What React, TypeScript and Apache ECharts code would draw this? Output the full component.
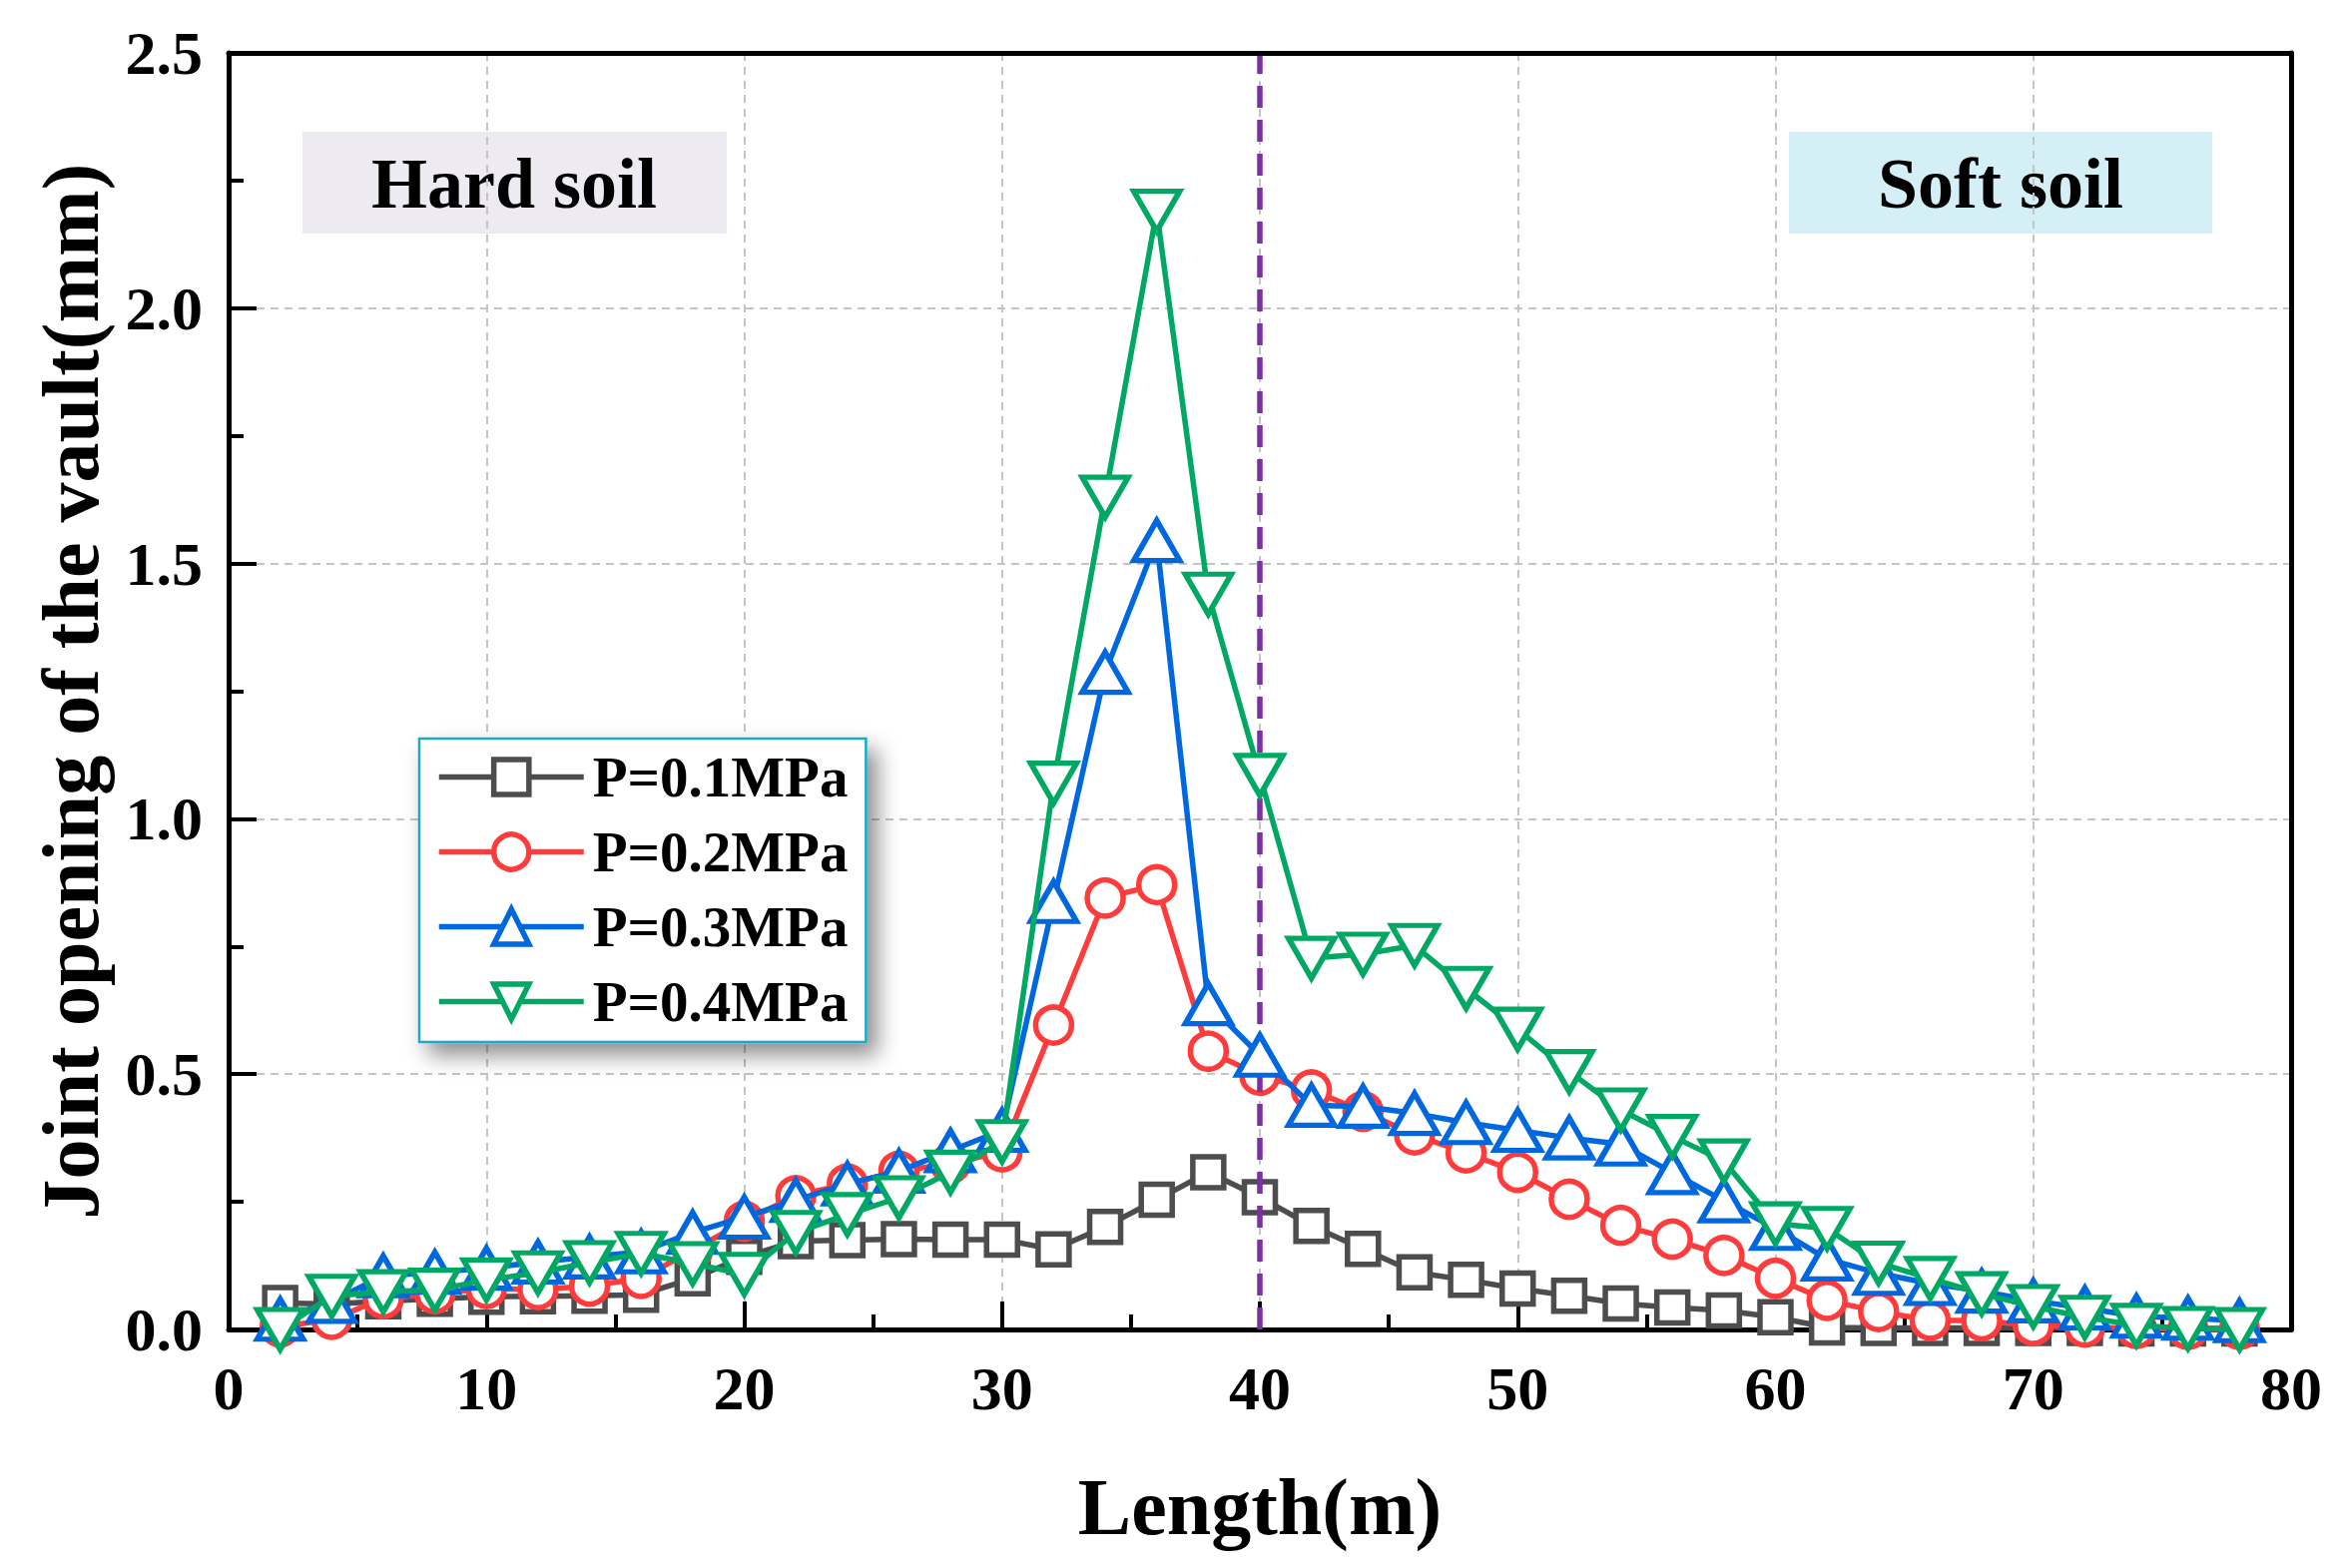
import React, { useEffect, useRef } from 'react';
import * as echarts from 'echarts';

// Length along the tunnel (m)
const lengths = [
  2, 4, 6, 8, 10, 12, 14, 16, 18, 20, 22, 24, 26, 28, 30, 32, 34, 36, 38, 40,
  42, 44, 46, 48, 50, 52, 54, 56, 58, 60, 62, 64, 66, 68, 70, 72, 74, 76, 78,
];

// Joint opening of the vault (mm)
const p01 = [
  0.052, 0.05, 0.055, 0.06, 0.064, 0.065, 0.066, 0.068, 0.1, 0.142, 0.173, 0.175, 0.177, 0.176, 0.176, 0.157, 0.201, 0.254, 0.308, 0.259,
  0.203, 0.158, 0.112, 0.097, 0.08, 0.066, 0.051, 0.043, 0.037, 0.024, 0.004, 0.003, 0.003, 0.003, 0.003, 0.003, 0.002, 0.002, 0.002,
];
const p02 = [
  0.005, 0.02, 0.06, 0.07, 0.08, 0.078, 0.085, 0.1, 0.155, 0.212, 0.262, 0.285, 0.31, 0.325, 0.348, 0.596, 0.845, 0.871, 0.545, 0.498,
  0.469, 0.427, 0.381, 0.346, 0.308, 0.255, 0.204, 0.177, 0.145, 0.1, 0.057, 0.035, 0.018, 0.017, 0.008, 0.005, 0.002, 0.0, 0.0,
];
const p03 = [
  0.02, 0.055, 0.105, 0.112, 0.12, 0.132, 0.142, 0.152, 0.19, 0.22, 0.253, 0.285, 0.31, 0.35, 0.39, 0.838, 1.287, 1.545, 0.638, 0.537,
  0.439, 0.437, 0.423, 0.405, 0.39, 0.375, 0.363, 0.307, 0.252, 0.198, 0.138, 0.11, 0.09, 0.075, 0.056, 0.042, 0.026, 0.022, 0.017,
];
const p04 = [
  0.0, 0.065, 0.074, 0.077, 0.097, 0.111, 0.131, 0.149, 0.129, 0.108, 0.19, 0.225, 0.258, 0.308, 0.368, 1.07, 1.63, 2.19, 1.44, 1.085,
  0.727, 0.735, 0.752, 0.668, 0.588, 0.505, 0.43, 0.378, 0.33, 0.207, 0.198, 0.13, 0.1, 0.07, 0.045, 0.024, 0.008, 0.002, 0.0,
];

const seriesNames = ['P=0.1MPa', 'P=0.2MPa', 'P=0.3MPa', 'P=0.4MPa'];
const seriesValues = [p01, p02, p03, p04];
const seriesColors = ['#4D4D4D', '#FF3B3B', '#0068DE', '#00A864'];
const seriesSymbols = ['rect', 'circle', 'triangle', 'path://M0,0 L100,0 L50,86.6 Z'];
const seriesSymbolSizes: (number | number[])[] = [31, 36, [46, 40], [46, 40]];

const boundaryLength = 40;

const FONT = "'Liberation Serif', 'Times New Roman', serif";

const frameAxis = {
  show: true,
  axisLine: { show: true, onZero: false, lineStyle: { color: '#000', width: 5 } },
  axisTick: { show: false },
  axisLabel: { show: false },
  splitLine: { show: false },
  z: 10,
};

const App: React.FC = () => {
  const chartRef = useRef<HTMLDivElement>(null);

  useEffect(() => {
    document.body.style.margin = '0';
    if (!chartRef.current) return;
    const chart = echarts.init(chartRef.current, undefined, { renderer: 'svg' });

    const series: any[] = seriesNames.map((name, i) => ({
      name,
      type: 'line',
      data: lengths.map((x, j) => [x, seriesValues[i][j]]),
      symbol: seriesSymbols[i],
      symbolSize: seriesSymbolSizes[i],
      symbolKeepAspect: false,
      showAllSymbol: true,
      clip: false,
      lineStyle: { color: seriesColors[i], width: 5.5 },
      itemStyle: { color: '#fff', borderColor: seriesColors[i], borderWidth: 5.5 },
      z: 3 + i,
    }));

    // dashed boundary between hard and soft soil
    series[0].markLine = {
      silent: true,
      symbol: 'none',
      label: { show: false },
      lineStyle: { color: '#7B2FA8', type: [22, 12], width: 5.5 },
      data: [{ xAxis: boundaryLength }],
    };

    const option: echarts.EChartsOption = {
      animation: false,
      backgroundColor: '#fff',
      textStyle: { fontFamily: FONT, fontWeight: 'bold', color: '#000' },
      grid: {
        left: 229,
        right: 51,
        top: 53,
        bottom: 239,
      },
      legend: {
        left: 420,
        top: 740,
        orient: 'vertical',
        data: seriesNames,
        itemWidth: 145,
        itemHeight: 44,
        itemGap: 18,
        padding: [10, 18, 12, 17],
        backgroundColor: '#fff',
        borderColor: '#1AA9C6',
        borderWidth: 2.5,
        shadowBlur: 22,
        shadowColor: 'rgba(0,0,0,0.45)',
        shadowOffsetX: 10,
        shadowOffsetY: 12,
        lineStyle: { width: 5.5 },
        itemStyle: { borderWidth: 5.5 },
        textStyle: {
          fontFamily: FONT,
          fontWeight: 'bold',
          fontSize: 57,
          lineHeight: 56,
          color: '#000',
          padding: [0, 0, 0, 4],
        },
      },
      xAxis: [
        {
          type: 'value',
          min: 0,
          max: 80,
          interval: 10,
          name: 'Length(m)',
          nameLocation: 'middle',
          nameGap: 138,
          nameTextStyle: { fontFamily: FONT, fontWeight: 'bold', fontSize: 80, color: '#000' },
          axisLine: { show: true, lineStyle: { color: '#000', width: 5 } },
          axisTick: { show: true, inside: true, length: 28, lineStyle: { color: '#000', width: 4 } },
          minorTick: { show: true, splitNumber: 2, length: 15, lineStyle: { color: '#000', width: 4 } },
          axisLabel: { fontFamily: FONT, fontWeight: 'bold', fontSize: 62, color: '#000', margin: 28 },
          splitLine: { show: true, lineStyle: { color: '#C4C4C4', type: [8, 6], width: 2 } },
        },
        { type: 'value', position: 'top', min: 0, max: 80, ...frameAxis },
      ],
      yAxis: [
        {
          type: 'value',
          min: 0,
          max: 2.5,
          interval: 0.5,
          name: 'Joint opening of the vault(mm)',
          nameLocation: 'middle',
          nameGap: 118,
          nameTextStyle: { fontFamily: FONT, fontWeight: 'bold', fontSize: 80, color: '#000' },
          axisLine: { show: true, lineStyle: { color: '#000', width: 5 } },
          axisTick: { show: true, inside: true, length: 28, lineStyle: { color: '#000', width: 4 } },
          minorTick: { show: true, splitNumber: 2, length: 15, lineStyle: { color: '#000', width: 4 } },
          axisLabel: {
            fontFamily: FONT,
            fontWeight: 'bold',
            fontSize: 62,
            color: '#000',
            margin: 26,
            formatter: (v: number) => v.toFixed(1),
          },
          splitLine: { show: true, lineStyle: { color: '#C4C4C4', type: [8, 6], width: 2 } },
        },
        { type: 'value', position: 'right', min: 0, max: 2.5, ...frameAxis },
      ],
      graphic: [
        {
          type: 'group',
          left: 303,
          top: 132,
          children: [
            { type: 'rect', shape: { x: 0, y: 0, width: 425, height: 102 }, style: { fill: '#EDEAF2' } },
            {
              type: 'text',
              x: 212,
              y: 52,
              style: {
                text: 'Hard soil',
                fill: '#000',
                font: `bold 72px ${FONT}`,
                align: 'center',
                verticalAlign: 'middle',
              },
            },
          ],
        },
        {
          type: 'group',
          left: 1792,
          top: 132,
          children: [
            { type: 'rect', shape: { x: 0, y: 0, width: 424, height: 102 }, style: { fill: '#D5EFF6' } },
            {
              type: 'text',
              x: 212,
              y: 52,
              style: {
                text: 'Soft soil',
                fill: '#000',
                font: `bold 72px ${FONT}`,
                align: 'center',
                verticalAlign: 'middle',
              },
            },
          ],
        },
      ],
      series,
    };

    chart.setOption(option);

    return () => {
      chart.dispose();
    };
  }, []);

  return <div ref={chartRef} style={{ width: '2346px', height: '1571px' }} />;
};

export default App;
